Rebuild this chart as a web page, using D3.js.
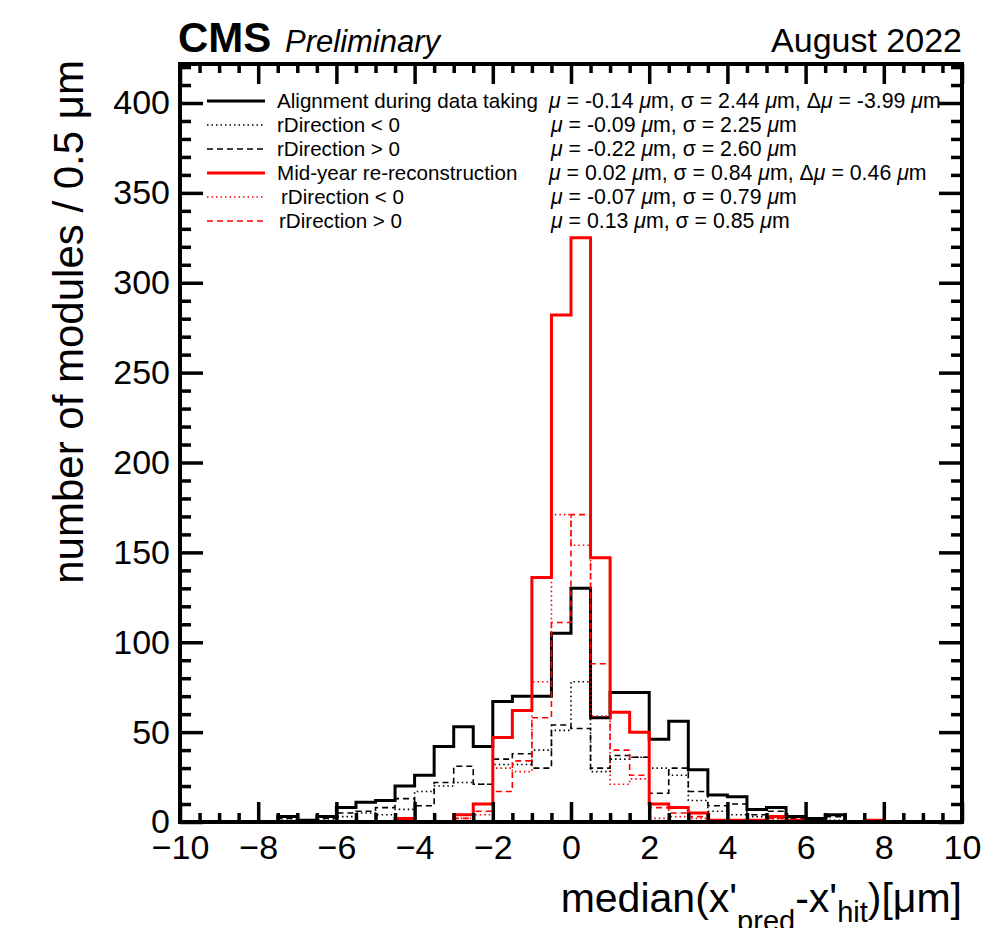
<!DOCTYPE html>
<html>
<head>
<meta charset="utf-8">
<script src="https://cdn.jsdelivr.net/npm/d3@7"></script>
<style>
body { margin: 0; background: #fff; }
text { font-family: "Liberation Sans", Arial, Helvetica, sans-serif; fill: #000; }
</style>
</head>
<body>
<div id="graph"></div>
<script>
// lower edges of the 0.5 um bins, -10 .. 9.5
var binLow = d3.range(-10, 10, 0.5);

// Alignment during data taking (black)
var alignDuring    = [0,0,0,0,0, 3,1,3,8,11, 12,20,26,42,53, 42,67,70,70,105, 130,58,72,72,46, 56,29,15,14,7, 8,3,2,4,0, 0,0,0,0,0];
var alignDuringNeg = [0,0,0,0,0, 1,0,1,3,5, 4,7,17,20,22, 21,32,32,40,51, 78,28,35,36,30, 26,12,6,4,3, 2,1,1,1,0, 0,0,0,0,0];
var alignDuringPos = [0,0,0,0,0, 2,1,2,5,6, 8,13,9,22,31, 21,35,38,30,54, 52,30,37,36,16, 30,17,9,10,4, 6,2,1,3,0, 0,0,0,0,0];

// Mid-year re-reconstruction (red)
var midYear    = [0,0,0,0,0, 0,0,0,0,0, 0,2,0,0,4, 10,47,62,136,282, 325,147,61,50,10, 8,5,1,1,1, 3,1,0,0,0, 1,0,0,0,0];
var midYearNeg = [0,0,0,0,0, 0,0,0,0,0, 0,1,0,0,2, 4,30,28,78,171, 154,59,21,24,2, 3,2,0,1,0, 1,1,0,0,0, 0,0,0,0,0];
var midYearPos = [0,0,0,0,0, 0,0,0,0,0, 0,1,0,0,2, 6,17,34,58,111, 171,88,40,26,8, 5,3,1,0,1, 2,0,0,0,0, 1,0,0,0,0];

var xMajor = [-10, -8, -6, -4, -2, 0, 2, 4, 6, 8, 10];
var yMajor = [0, 50, 100, 150, 200, 250, 300, 350, 400];

var legendLabels = ["Alignment during data taking", "rDirection < 0", "rDirection > 0",
                    "Mid-year re-reconstruction", "rDirection < 0", "rDirection > 0"];
var statMu    = ["-0.14", "-0.09", "-0.22", "0.02", "-0.07", "0.13"];
var statSigma = ["2.44", "2.25", "2.60", "0.84", "0.79", "0.85"];
var statDelta = ["-3.99", null, null, "0.46", null, null];

var margin = {top: 64, right: 42, bottom: 106, left: 180},
    width = 1004 - margin.left - margin.right,
    height = 928 - margin.top - margin.bottom;

var svg = d3.select('#graph').html('')
    .append("svg")
    .attr("width", 1004)
    .attr("height", 928);

var g = svg.append("g")
    .attr("transform", "translate(" + margin.left + "," + margin.top + ")");

var x = d3.scaleLinear().domain([-10, 10]).range([0, width]);
var y = d3.scaleLinear().domain([0, 421.7]).range([height, 0]);

g.append("clipPath").attr("id", "frame")
    .append("rect").attr("x", 0).attr("y", -2).attr("width", width).attr("height", height + 1);

// histograms drawn as step outlines
var series = [
    {v: alignDuring,    color: "#000", w: 3,   dash: null},
    {v: alignDuringNeg, color: "#000", w: 1.6, dash: "1.5,3"},
    {v: alignDuringPos, color: "#000", w: 1.6, dash: "6,4"},
    {v: midYear,        color: "#ff0000", w: 3,   dash: null},
    {v: midYearNeg,     color: "#ff0000", w: 1.6, dash: "1.5,3"},
    {v: midYearPos,     color: "#ff0000", w: 1.6, dash: "6,4"}
];

var step = d3.line()
    .x(function (d) { return x(d[0]); })
    .y(function (d) { return y(d[1]); })
    .curve(d3.curveStepAfter);

var drawOrder = [1, 2, 0, 4, 5, 3];
drawOrder.forEach(function (k) {
    var s = series[k];
    var pts = binLow.map(function (b, i) { return [b, s.v[i]]; });
    pts.push([10, s.v[s.v.length - 1]]);
    g.append("path")
        .attr("clip-path", "url(#frame)")
        .attr("d", step(pts))
        .attr("fill", "none")
        .attr("stroke", s.color)
        .attr("stroke-width", s.w)
        .attr("stroke-dasharray", s.dash);
});

// frame
g.append("rect")
    .attr("width", width).attr("height", height)
    .attr("fill", "none").attr("stroke", "#000").attr("stroke-width", 4);

var xMinor = d3.range(-10, 10.01, 0.5).filter(function (d) { return xMajor.indexOf(d) < 0; });
var yMinor = d3.range(0, 421, 10).filter(function (d) { return yMajor.indexOf(d) < 0; });

function styleAxis(sel, labels) {
    sel.select(".domain").remove();
    sel.selectAll("line").attr("stroke-width", 3.5);
    if (!labels) sel.selectAll("text").remove();
    else sel.selectAll("text").style("font-size", "34px").attr("fill", "#000");
}

g.append("g").attr("transform", "translate(0," + height + ")")
    .call(d3.axisBottom(x).tickValues(xMajor).tickSize(-20).tickPadding(13))
    .call(styleAxis, true);
g.append("g").attr("transform", "translate(0," + height + ")")
    .call(d3.axisBottom(x).tickValues(xMinor).tickSize(-9))
    .call(styleAxis, false);
g.append("g")
    .call(d3.axisTop(x).tickValues(xMajor).tickSize(-20))
    .call(styleAxis, false);
g.append("g")
    .call(d3.axisTop(x).tickValues(xMinor).tickSize(-9))
    .call(styleAxis, false);

g.append("g")
    .call(d3.axisLeft(y).tickValues(yMajor).tickSize(-23).tickPadding(10))
    .call(styleAxis, true);
g.append("g")
    .call(d3.axisLeft(y).tickValues(yMinor).tickSize(-11))
    .call(styleAxis, false);
g.append("g").attr("transform", "translate(" + width + ",0)")
    .call(d3.axisRight(y).tickValues(yMajor).tickSize(-23))
    .call(styleAxis, false);
g.append("g").attr("transform", "translate(" + width + ",0)")
    .call(d3.axisRight(y).tickValues(yMinor).tickSize(-11))
    .call(styleAxis, false);

// legend
var leg = g.append("g");
var legTextX = [97, 97, 97, 97, 101, 99];
[0, 1, 2, 3, 4, 5].forEach(function (k, i) {
    var s = series[k];
    var cy = 37 + 24 * i;
    leg.append("line")
        .attr("x1", 27).attr("x2", 85).attr("y1", cy).attr("y2", cy)
        .attr("stroke", s.color).attr("stroke-width", s.w)
        .attr("stroke-dasharray", s.dash);
    leg.append("text")
        .attr("x", legTextX[i]).attr("y", cy + 7)
        .style("font-size", "20.6px")
        .text(legendLabels[i]);

    var t = leg.append("text")
        .attr("x", statDelta[i] !== null ? 369 : 371).attr("y", cy + 7)
        .style("font-size", "21.3px");
    var mu = function () { t.append("tspan").style("font-style", "italic").text("\u03bc"); };
    mu();
    t.append("tspan").text(" = " + statMu[i] + " ");
    mu();
    t.append("tspan").text("m, \u03c3 = " + statSigma[i] + " ");
    mu();
    t.append("tspan").text("m");
    if (statDelta[i] !== null) {
        t.append("tspan").text(", \u0394");
        mu();
        t.append("tspan").text(" = " + statDelta[i] + " ");
        mu();
        t.append("tspan").text("m");
    }
});

// header
svg.append("text").attr("x", 178).attr("y", 52)
    .style("font-size", "42px").style("font-weight", "bold").text("CMS");
svg.append("text").attr("x", 285).attr("y", 52)
    .style("font-size", "31px").style("font-style", "italic").text("Preliminary");
svg.append("text").attr("x", 962).attr("y", 52).attr("text-anchor", "end")
    .style("font-size", "34px").text("August 2022");

// axis titles
svg.append("text")
    .attr("transform", "translate(83,60) rotate(-90)")
    .attr("text-anchor", "end")
    .style("font-size", "42px")
    .text("number of modules / 0.5 \u03bcm");

var xt = svg.append("text")
    .attr("x", 962).attr("y", 912)
    .attr("text-anchor", "end")
    .style("font-size", "41px");
xt.append("tspan").text("median(x'");
xt.append("tspan").attr("dy", 19).style("font-size", "29px").text("pred");
xt.append("tspan").attr("dy", -19).text("-x'");
xt.append("tspan").attr("dy", 10).style("font-size", "29px").text("hit");
xt.append("tspan").attr("dy", -10).text(")[\u03bcm]");
</script>
</body>
</html>
